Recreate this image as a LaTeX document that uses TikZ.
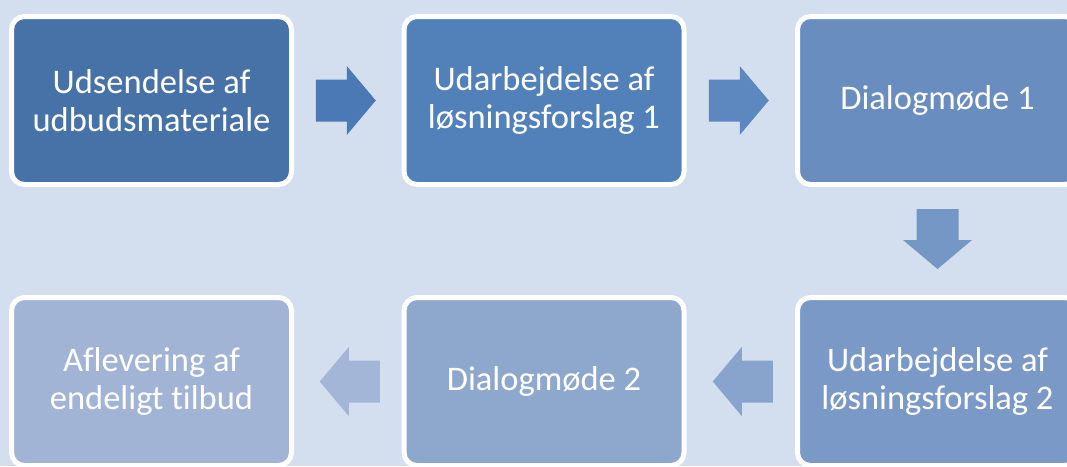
\documentclass[tikz,border=0pt]{standalone}
\usepackage{fontspec}
\setmainfont{Carlito}[Ligatures=NoCommon]
\usetikzlibrary{calc}
\definecolor{bgc}{HTML}{D3DFEE}
\definecolor{cA}{HTML}{4672A8}
\definecolor{cB}{HTML}{5280B8}
\definecolor{cC}{HTML}{6A8DC0}
\definecolor{cD}{HTML}{7A99C6}
\definecolor{cE}{HTML}{8EA7CD}
\definecolor{cF}{HTML}{A2B4D5}
\definecolor{aA}{HTML}{4A79B6}
\definecolor{aB}{HTML}{5C87BF}
\definecolor{aC}{HTML}{7597C6}
\definecolor{aD}{HTML}{89A4CC}
\definecolor{aE}{HTML}{A3B6D7}
\tikzset{
  stepbox/.style={draw=white, line width=5pt, rounded corners=13pt,
    minimum width=280pt, minimum height=168pt, inner sep=0pt,
    text=white, align=center, font=\fontsize{34.5}{38}\selectfont},
  blockarrow/.pic={
    \fill (-30,-21) -- (1,-21) -- (1,-34.5) -- (30,0) -- (1,34.5) -- (1,21) -- (-30,21) -- cycle;
  }
}
\begin{document}
\begin{tikzpicture}[x=1pt,y=-1pt]
\fill[bgc] (0,0) rectangle (1067,466);
\useasboundingbox (0,0) rectangle (1067,466);
\clip (0,0) rectangle (1067,466);
\node[stepbox, fill=cA] (b1) at (151.5,100.5) {Udsendelse af\\udbudsmateriale};
\node[stepbox, fill=cB] (b2) at (544,100.5) {Udarbejdelse af\\løsningsforslag 1};
\node[stepbox, fill=cC] (b3) at (937.5,100.5) {Dialogmøde 1};
\node[stepbox, fill=cD] (b4) at (937.5,381.5) {Udarbejdelse af\\løsningsforslag 2};
\node[stepbox, fill=cE] (b5) at (544,381.5) {Dialogmøde 2};
\node[stepbox, fill=cF] (b6) at (151.5,381.5) {Aflevering af\\endeligt tilbud};
\coordinate (m1) at ($(b1.east)!0.5!(b2.west)+(-2,0)$);
\coordinate (m2) at ($(b2.east)!0.5!(b3.west)+(-2,0)$);
\coordinate (m3) at ($(b3.south)!0.5!(b4.north)+(0,-2)$);
\coordinate (m4) at ($(b4.west)!0.5!(b5.east)+(2,0)$);
\coordinate (m5) at ($(b5.west)!0.5!(b6.east)+(2,0)$);
\pic[aA] at (m1) {blockarrow};
\pic[aB] at (m2) {blockarrow};
\pic[aC, rotate=-90] at (m3) {blockarrow};
\pic[aD, rotate=180] at (m4) {blockarrow};
\pic[aE, rotate=180] at (m5) {blockarrow};
\end{tikzpicture}
\end{document}
